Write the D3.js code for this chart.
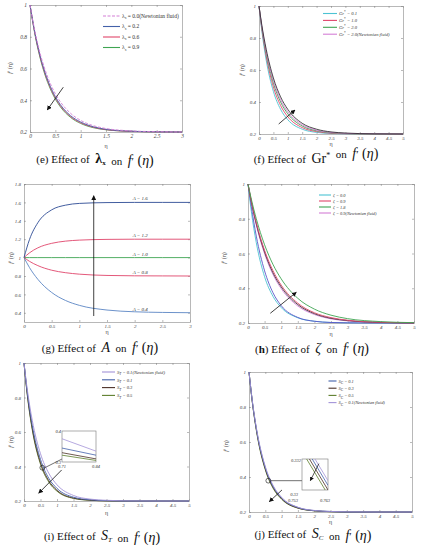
<!DOCTYPE html>
<html>
<head>
<meta charset="utf-8">
<script src="https://cdn.jsdelivr.net/npm/d3@7"></script>
<style>
  body { margin: 0; background: #fff; }
  svg { display: block; }
  text { font-family: 'Liberation Serif', 'DejaVu Serif', serif; }
</style>
</head>
<body>
<svg id="fig" width="422" height="550"></svg>
<script>
// ---- tick labels ----
const ticksX3 = [0, 0.5, 1, 1.5, 2, 2.5, 3];
const ticksX5 = [0, 0.5, 1, 1.5, 2, 2.5, 3, 3.5, 4, 4.5, 5];
const ticksY1 = [0.2, 0.4, 0.6, 0.8, 1];
const ticksYA = [0.4, 0.6, 0.8, 1, 1.2, 1.4, 1.6, 1.8];

// ---- (e) lambda_x ----
const etaE = [0, 0.1, 0.2, 0.3, 0.4, 0.5, 0.6, 0.8, 1.0, 1.25, 1.5, 2, 2.5, 3];
const eNewt = [1, 0.83, 0.695, 0.59, 0.506, 0.441, 0.39, 0.318, 0.273, 0.24, 0.222, 0.207, 0.202, 0.2];
const eL02 = [1, 0.82, 0.68, 0.572, 0.488, 0.423, 0.372, 0.303, 0.263, 0.233, 0.217, 0.205, 0.201, 0.2];
const eL06 = [1, 0.815, 0.673, 0.564, 0.48, 0.415, 0.365, 0.297, 0.258, 0.23, 0.215, 0.204, 0.201, 0.2];
const eL09 = [1, 0.81, 0.666, 0.556, 0.472, 0.407, 0.358, 0.292, 0.254, 0.227, 0.214, 0.204, 0.201, 0.2];
const eLabels = ['0.0(Newtonian fluid)', '0.2', '0.6', '0.9'];

// ---- (f) Gr* ----
const etaF = [0, 0.1, 0.25, 0.5, 0.75, 1, 1.5, 2, 2.5, 3, 4, 5];
const fGr01 = [1, 0.842, 0.662, 0.466, 0.354, 0.289, 0.230, 0.210, 0.203, 0.201, 0.2, 0.2];
const fGr10 = [1, 0.855, 0.686, 0.494, 0.378, 0.308, 0.240, 0.215, 0.205, 0.202, 0.2, 0.2];
const fGr20 = [1, 0.865, 0.704, 0.518, 0.400, 0.326, 0.250, 0.220, 0.208, 0.203, 0.2, 0.2];
const fNewt = [1, 0.871, 0.717, 0.534, 0.415, 0.339, 0.258, 0.224, 0.210, 0.204, 0.201, 0.2];
const fDark = [1, 0.878, 0.730, 0.550, 0.432, 0.354, 0.267, 0.230, 0.213, 0.206, 0.201, 0.2];
const fLabels = ['0.1', '1.0', '2.0', '2.0(Newtonian fluid)'];

// ---- (g) A ----
const etaG = [0, 0.1, 0.25, 0.5, 0.75, 1, 1.5, 2, 2.5, 3];
const gA16 = [1, 1.198, 1.379, 1.519, 1.570, 1.589, 1.598, 1.6, 1.6, 1.6];
const gA12 = [1, 1.052, 1.106, 1.155, 1.179, 1.190, 1.198, 1.2, 1.2, 1.2];
const gA10 = [1, 1, 1, 1, 1, 1, 1, 1, 1, 1];
const gA08 = [1, 0.959, 0.913, 0.863, 0.836, 0.820, 0.806, 0.802, 0.801, 0.8];
const gA04 = [1, 0.891, 0.764, 0.621, 0.534, 0.481, 0.430, 0.411, 0.404, 0.401];
const gLabels = ['1.6', '1.2', '1.0', '0.8', '0.4'];

// ---- (h) zeta ----
const etaH = [0, 0.1, 0.25, 0.5, 0.75, 1, 1.5, 2, 2.5, 3, 4, 5];
const hZ00 = [1, 0.842, 0.662, 0.466, 0.354, 0.289, 0.230, 0.210, 0.203, 0.201, 0.2, 0.2];
const hBlue = [1, 0.870, 0.700, 0.500, 0.375, 0.300, 0.232, 0.210, 0.203, 0.201, 0.2, 0.2];
const hDark = [1, 0.898, 0.770, 0.608, 0.490, 0.408, 0.306, 0.254, 0.227, 0.214, 0.203, 0.2];
const hNewt = [1, 0.895, 0.764, 0.598, 0.480, 0.398, 0.298, 0.249, 0.224, 0.212, 0.203, 0.2];
const hZ09 = [1, 0.902, 0.778, 0.618, 0.502, 0.418, 0.314, 0.259, 0.231, 0.216, 0.204, 0.201];
const hZ18 = [1, 0.913, 0.800, 0.650, 0.538, 0.454, 0.342, 0.280, 0.245, 0.225, 0.208, 0.202];
const hLabels = ['0.0', '0.9', '1.8', '0.9(Newtonian fluid)'];

// ---- (i) S_T ----
const etaI = [0, 0.1, 0.25, 0.5, 0.75, 1, 1.5, 2, 2.5, 3, 4, 5];
const iNewt = [1, 0.846, 0.668, 0.474, 0.361, 0.294, 0.232, 0.211, 0.204, 0.201, 0.2, 0.2];
const iS01 = [1, 0.830, 0.639, 0.441, 0.332, 0.273, 0.222, 0.207, 0.202, 0.2, 0.2, 0.2];
const iS03 = [1, 0.819, 0.622, 0.422, 0.318, 0.262, 0.217, 0.205, 0.201, 0.2, 0.2, 0.2];
const iS05 = [1, 0.814, 0.613, 0.413, 0.310, 0.257, 0.215, 0.204, 0.201, 0.2, 0.2, 0.2];
const iLabels = ['0.1(Newtonian fluid)', '0.1', '0.3', '0.5'];
const iInsetEta = [0.71, 0.84];
const iInsetNewt = [0.375, 0.335];
const iInsetS01 = [0.345, 0.322];
const iInsetS03 = [0.330, 0.310];
const iInsetS05 = [0.322, 0.305];

// ---- (j) S_C ----
const etaJ = [0, 0.1, 0.25, 0.5, 0.75, 1, 1.5, 2, 2.5, 3, 4, 5];
const jS01 = [1, 0.835, 0.650, 0.454, 0.342, 0.280, 0.226, 0.208, 0.203, 0.2, 0.2, 0.2];
const jS03 = [1, 0.833, 0.645, 0.447, 0.338, 0.276, 0.223, 0.207, 0.202, 0.2, 0.2, 0.2];
const jS05 = [1, 0.830, 0.639, 0.441, 0.332, 0.273, 0.222, 0.207, 0.202, 0.2, 0.2, 0.2];
const jNewt = [1, 0.839, 0.656, 0.460, 0.348, 0.284, 0.227, 0.209, 0.203, 0.201, 0.2, 0.2];
const jLabels = ['0.1', '0.3', '0.5', '0.1(Newtonian fluid)'];
const jInsetEta = [0.753, 0.763];
const jInsetS05 = [0.3325, 0.3297];
const jInsetS03 = [0.3328, 0.3300];
const jInsetS01 = [0.3331, 0.3303];
const jInsetNewt = [0.3334, 0.3306];

const C = {
  pink: '#d47fd6', blue: '#4361a9', red: '#e0456b', green: '#3fa552',
  cyan: '#4cc3d3', lav: '#a393d8', dark: '#4b3026', olive: '#5d7e2c',
  steel: '#5b86c4', navy: '#2c4b94', black: '#222'
};
const SERIF = 'Liberation Serif, DejaVu Serif, serif';
const SP = '\u00a0';

const svg = d3.select('#fig');
svg.append('defs').append('marker')
  .attr('id', 'arr').attr('viewBox', '0 0 10 10').attr('refX', 9).attr('refY', 5)
  .attr('markerWidth', 6).attr('markerHeight', 6).attr('orient', 'auto')
  .append('path').attr('d', 'M0,0L10,5L0,10z').attr('fill', '#111');

// write a list of [text, style] pieces into a text node
function rich(sel, parts) {
  sel.attr('font-family', SERIF);
  parts.forEach(p => {
    const s = p[1] || {};
    const t = sel.append('tspan').text(p[0]);
    if (s.size) t.attr('font-size', s.size);
    if (s.it) t.attr('font-style', 'italic');
    if (s.b) t.attr('font-weight', 'bold');
    if (s.dy) t.attr('dy', s.dy);
  });
  return sel;
}

function panel(cfg) {
  const [l, r, t, b] = cfg.box;
  const x = d3.scaleLinear().domain(cfg.xDomain).range([l, r]);
  const y = d3.scaleLinear().domain(cfg.yDomain).range([b, t]);
  const g = svg.append('g');

  const fmt = d => String(d);
  const styleAxis = a => {
    a.attr('font-family', SERIF);
    a.select('.domain').attr('stroke', '#9a9a9a').attr('stroke-width', 0.7);
    a.selectAll('.tick line').attr('stroke', '#777').attr('stroke-width', 0.5);
    a.selectAll('.tick text').attr('font-size', cfg.tickSize || 5).attr('font-style', 'italic')
      .attr('fill', '#444');
  };
  g.append('g').attr('transform', `translate(0,${b})`)
    .call(d3.axisBottom(x).tickValues(cfg.xTicks).tickSize(-2).tickSizeOuter(0).tickPadding(2).tickFormat(fmt))
    .call(styleAxis);
  g.append('g').attr('transform', `translate(0,${t})`)
    .call(d3.axisTop(x).tickValues(cfg.xTicks).tickSize(-2).tickSizeOuter(0).tickFormat(''))
    .call(styleAxis);
  g.append('g').attr('transform', `translate(${l},0)`)
    .call(d3.axisLeft(y).tickValues(cfg.yTicks).tickSize(-2).tickSizeOuter(0).tickPadding(3).tickFormat(fmt))
    .call(styleAxis);
  g.append('g').attr('transform', `translate(${r},0)`)
    .call(d3.axisRight(y).tickValues(cfg.yTicks).tickSize(-2).tickSizeOuter(0).tickFormat(''))
    .call(styleAxis);

  const line = d3.line().x(d => x(d[0])).y(d => y(d[1])).curve(d3.curveMonotoneX);
  cfg.series.forEach(s => {
    g.append('path')
      .datum(cfg.eta.map((e, i) => [e, s.v[i]]))
      .attr('d', line)
      .attr('fill', 'none')
      .attr('stroke', s.c)
      .attr('stroke-width', s.w || 0.9)
      .attr('stroke-dasharray', s.dash || null);
  });

  // legend
  if (cfg.legend) {
    const L = cfg.legend;
    L.items.forEach((it, i) => {
      const yy = L.y + i * L.dy;
      g.append('line').attr('x1', L.x).attr('x2', L.x + L.len).attr('y1', yy).attr('y2', yy)
        .attr('stroke', it.c).attr('stroke-width', 1.1).attr('stroke-dasharray', it.dash || null);
      rich(g.append('text').attr('x', L.x + L.len + 2).attr('y', yy + 1.7)
        .attr('font-size', L.size).attr('fill', '#333'), it.parts);
    });
  }

  // axis labels
  g.append('text').attr('x', (l + r) / 2).attr('y', cfg.xlab).attr('text-anchor', 'middle')
    .attr('font-family', SERIF).attr('font-size', 6).attr('fill', '#444').text('η');
  rich(g.append('text').attr('transform', `translate(${cfg.ylab[0]},${cfg.ylab[1]}) rotate(-90)`)
    .attr('text-anchor', 'middle').attr('font-size', 6).attr('fill', '#444'),
    [['f', { it: true }], ['′' + SP + '(η)']]);

  // caption
  rich(g.append('text').attr('x', cfg.title[0]).attr('y', cfg.title[1]).attr('text-anchor', 'middle')
    .attr('font-size', 11).attr('fill', '#111'), cfg.title[2]);

  // arrow
  if (cfg.arrow) {
    const a = cfg.arrow;
    g.append('line').attr('x1', x(a[0])).attr('y1', y(a[1])).attr('x2', x(a[2])).attr('y2', y(a[3]))
      .attr('stroke', '#111').attr('stroke-width', 0.8).attr('marker-end', 'url(#arr)');
  }
  return { g, x, y };
}

const onF = [[SP + SP + 'on' + SP + SP], ['f', { it: true, size: 14 }], ['′', { size: 11 }], [SP + '(', { size: 14 }], ['η', { it: true, size: 14 }], [')', { size: 14 }]];

// (e)
const sym = (base, sub, rest, it) => [[base, { it: it }], [sub, { size: 3.5, dy: 1.5, it: it }], [rest, { dy: -1.5, it: it }]];
panel({
  box: [30, 182, 5, 132], xDomain: [0, 3], yDomain: [0.2, 1], xTicks: ticksX3, yTicks: ticksY1,
  eta: etaE, tickSize: 5.5,
  series: [
    { v: eL09, c: C.green }, { v: eL06, c: C.red }, { v: eL02, c: C.blue },
    { v: eNewt, c: C.pink, dash: '3,1.5' }
  ],
  legend: {
    x: 103, y: 16, dy: 10.5, len: 17, size: 5.5,
    items: [
      { c: C.pink, dash: '3,1.5', parts: sym('λ', 'x', ' = ' + eLabels[0]) },
      { c: C.blue, parts: sym('λ', 'x', ' = ' + eLabels[1]) },
      { c: C.red, parts: sym('λ', 'x', ' = ' + eLabels[2]) },
      { c: C.green, parts: sym('λ', 'x', ' = ' + eLabels[3]) }
    ]
  },
  xlab: 148, ylab: [12, 68],
  title: [95, 163, [['(e) Effect of' + SP + SP], ['λ', { b: true, size: 14 }], ['x', { b: true, size: 7, dy: 2 }], ['', { dy: -2 }]].concat(onF)],
  arrow: [0.657, 0.482, 0.341, 0.339]
});

// (f)
const grSym = rest => [['Gr', { it: true }], ['*', { size: 3.5, dy: -1.8 }], [' = ' + rest, { it: true, dy: 1.8 }]];
panel({
  box: [259, 403, 6, 134], xDomain: [0, 5], yDomain: [0.2, 1], xTicks: ticksX5, yTicks: ticksY1,
  eta: etaF,
  series: [
    { v: fGr01, c: C.cyan }, { v: fGr10, c: C.red }, { v: fGr20, c: C.green },
    { v: fNewt, c: C.pink }, { v: fDark, c: C.black, w: 0.8 }
  ],
  legend: {
    x: 323, y: 13.5, dy: 6.9, len: 14, size: 4.6,
    items: [
      { c: C.cyan, parts: grSym(fLabels[0]) }, { c: C.red, parts: grSym(fLabels[1]) },
      { c: C.green, parts: grSym(fLabels[2]) }, { c: C.pink, parts: grSym(fLabels[3]) }
    ]
  },
  xlab: 146, ylab: [244, 70],
  title: [316, 163, [['(f) Effect of' + SP + SP], ['Gr', { size: 14 }], ['*', { size: 8, dy: -5 }], ['', { dy: 5 }]].concat(onF)],
  arrow: [0.684, 0.2625, 1.25, 0.35]
});

// (g)
const pg = panel({
  box: [24, 190, 184, 322], xDomain: [0, 3], yDomain: [0.3, 1.8], xTicks: ticksX3, yTicks: ticksYA,
  eta: etaG,
  series: [
    { v: gA04, c: C.steel }, { v: gA08, c: C.red }, { v: gA10, c: C.green },
    { v: gA12, c: C.red }, { v: gA16, c: C.navy }
  ],
  xlab: 334, ylab: [13, 258],
  title: [100, 352, [['(g) Effect of' + SP + SP], ['A', { it: true, size: 14 }]].concat(onF)],
  arrow: [1.26, 0.365, 1.26, 1.673]
});
[[1.6, gLabels[0]], [1.2, gLabels[1]], [1.0, gLabels[2]], [0.8, gLabels[3]], [0.4, gLabels[4]]].forEach(d => {
  pg.g.append('text').attr('x', pg.x(2.1)).attr('y', pg.y(d[0]) - 2).attr('text-anchor', 'middle')
    .attr('font-family', SERIF).attr('font-size', 5).attr('font-style', 'italic').attr('fill', '#333').text('A = ' + d[1]);
});

// (h)
const zSym = rest => [['ζ', { it: true }], [' = ' + rest, { it: true }]];
panel({
  box: [248, 414, 184, 323], xDomain: [0, 5], yDomain: [0.2, 1], xTicks: ticksX5, yTicks: ticksY1,
  eta: etaH,
  series: [
    { v: hZ00, c: C.cyan }, { v: hBlue, c: '#5a55c8' }, { v: hNewt, c: C.pink },
    { v: hDark, c: C.black, w: 0.8 }, { v: hZ09, c: C.red }, { v: hZ18, c: C.green }
  ],
  legend: {
    x: 319, y: 195, dy: 6, len: 12, size: 4.4,
    items: [
      { c: C.cyan, parts: zSym(hLabels[0]) }, { c: C.red, parts: zSym(hLabels[1]) },
      { c: C.green, parts: zSym(hLabels[2]) }, { c: C.pink, parts: zSym(hLabels[3]) }
    ]
  },
  xlab: 336, ylab: [226, 258],
  title: [312, 353, [['(', {}], ['h', { b: true }], [') Effect of' + SP + SP], ['ζ', { it: true, size: 14 }]].concat(onF)],
  arrow: [0.672, 0.256, 1.455, 0.377]
});

// (i)
const sSym = (sub, rest) => [['S', { it: true }], [sub, { it: true, size: 3.5, dy: 1.5 }], [' = ' + rest, { it: true, dy: -1.5 }]];
const pi = panel({
  box: [24, 189, 363, 501], xDomain: [0, 5], yDomain: [0.2, 1], xTicks: ticksX5, yTicks: ticksY1,
  eta: etaI,
  series: [
    { v: iS05, c: C.olive }, { v: iS03, c: C.dark }, { v: iS01, c: C.blue }, { v: iNewt, c: C.lav }
  ],
  legend: {
    x: 102, y: 372, dy: 7.8, len: 13, size: 4.6,
    items: [
      { c: C.lav, parts: sSym('T', iLabels[0]) }, { c: C.blue, parts: sSym('T', iLabels[1]) },
      { c: C.dark, parts: sSym('T', iLabels[2]) }, { c: C.olive, parts: sSym('T', iLabels[3]) }
    ]
  },
  xlab: 515, ylab: [13, 442],
  title: [102, 540, [['(i) Effect of' + SP + SP], ['S', { it: true, size: 14 }], ['T', { it: true, size: 7, dy: 2 }], ['', { dy: -2 }]].concat(onF)],
  arrow: [1.142, 0.38, 0.445, 0.245]
});
// zoom circle + inset for (i)
pi.g.append('circle').attr('cx', pi.x(0.555)).attr('cy', pi.y(0.393)).attr('r', 2.4)
  .attr('fill', 'none').attr('stroke', '#111').attr('stroke-width', 0.6);
pi.g.append('line').attr('x1', pi.x(0.6)).attr('y1', pi.y(0.39)).attr('x2', 62).attr('y2', 459)
  .attr('stroke', '#111').attr('stroke-width', 0.6);
(function () {
  const bx = [62, 96, 431, 462];
  const ix = d3.scaleLinear().domain(iInsetEta).range([bx[0], bx[1]]);
  const iy = d3.scaleLinear().domain([0.3, 0.4]).range([bx[3], bx[2]]);
  const ig = pi.g.append('g');
  ig.append('rect').attr('x', bx[0]).attr('y', bx[2]).attr('width', bx[1] - bx[0]).attr('height', bx[3] - bx[2])
    .attr('fill', '#fff').attr('stroke', '#777').attr('stroke-width', 0.6);
  [[iInsetNewt, C.lav], [iInsetS01, C.blue], [iInsetS03, C.dark], [iInsetS05, C.olive]].forEach(s => {
    ig.append('line').attr('x1', ix(iInsetEta[0])).attr('y1', iy(s[0][0]))
      .attr('x2', ix(iInsetEta[1])).attr('y2', iy(s[0][1])).attr('stroke', s[1]).attr('stroke-width', 0.8);
  });
  const lab = (tx, ty, s, anchor) => ig.append('text').attr('x', tx).attr('y', ty).attr('font-size', 4.5)
    .attr('font-family', SERIF).attr('font-style', 'italic').attr('fill', '#333').attr('text-anchor', anchor || 'start').text(s);
  lab(bx[0] - 1, bx[2] + 2, '0.4', 'end');
  lab(bx[0] - 1, bx[3] + 1.5, '0.3', 'end');
  lab(bx[0], bx[3] + 6, '0.71', 'middle');
  lab(bx[1], bx[3] + 6, '0.84', 'middle');
})();

// (j)
const pj = panel({
  box: [249, 412, 372, 512], xDomain: [0, 5], yDomain: [0.2, 1], xTicks: ticksX5, yTicks: ticksY1,
  eta: etaJ,
  series: [
    { v: jS05, c: C.olive }, { v: jS03, c: C.dark }, { v: jS01, c: C.blue }, { v: jNewt, c: C.lav }
  ],
  legend: {
    x: 328.5, y: 381, dy: 7.2, len: 8, size: 4.4,
    items: [
      { c: C.blue, parts: sSym('C', jLabels[0]) }, { c: C.dark, parts: sSym('C', jLabels[1]) },
      { c: C.olive, parts: sSym('C', jLabels[2]) }, { c: C.lav, parts: sSym('C', jLabels[3]) }
    ]
  },
  xlab: 524, ylab: [228, 446],
  title: [313, 538, [['(j) Effect of' + SP + SP], ['S', { it: true, size: 14 }], ['C', { it: true, size: 7, dy: 2 }], ['', { dy: -2 }]].concat(onF)],
  arrow: [1.012, 0.326, 0.623, 0.259]
});
pj.g.append('circle').attr('cx', pj.x(0.592)).attr('cy', pj.y(0.379)).attr('r', 2.4)
  .attr('fill', 'none').attr('stroke', '#111').attr('stroke-width', 0.6);
(function () {
  const bx = [302, 328, 459, 490];
  pj.g.append('line').attr('x1', pj.x(0.592) + 2.4).attr('y1', pj.y(0.379)).attr('x2', bx[0]).attr('y2', pj.y(0.379))
    .attr('stroke', '#111').attr('stroke-width', 0.6);
  const ix = d3.scaleLinear().domain(jInsetEta).range([bx[0], bx[1]]);
  const iy = d3.scaleLinear().domain([0.33, 0.332]).range([bx[3], bx[2]]);
  const ig = pj.g.append('g');
  ig.append('clipPath').attr('id', 'jclip').append('rect')
    .attr('x', bx[0]).attr('y', bx[2]).attr('width', bx[1] - bx[0]).attr('height', bx[3] - bx[2]);
  ig.append('rect').attr('x', bx[0]).attr('y', bx[2]).attr('width', bx[1] - bx[0]).attr('height', bx[3] - bx[2])
    .attr('fill', '#fff').attr('stroke', '#777').attr('stroke-width', 0.6);
  const lg = ig.append('g').attr('clip-path', 'url(#jclip)');
  [[jInsetS05, C.olive], [jInsetS03, C.dark], [jInsetS01, C.blue], [jInsetNewt, C.lav]].forEach(s => {
    lg.append('line').attr('x1', ix(jInsetEta[0])).attr('y1', iy(s[0][0]))
      .attr('x2', ix(jInsetEta[1])).attr('y2', iy(s[0][1])).attr('stroke', s[1]).attr('stroke-width', 0.8);
  });
  ig.append('line').attr('x1', ix(0.7595)).attr('y1', iy(0.3317)).attr('x2', ix(0.7562)).attr('y2', iy(0.3306))
    .attr('stroke', '#111').attr('stroke-width', 0.7).attr('marker-end', 'url(#arr)');
  const lab = (tx, ty, s, anchor) => ig.append('text').attr('x', tx).attr('y', ty).attr('font-size', 4.5)
    .attr('font-family', SERIF).attr('font-style', 'italic').attr('fill', '#333').attr('text-anchor', anchor || 'start').text(s);
  lab(bx[0] - 1, bx[2] + 3, '0.332', 'end');
  lab(bx[0] - 4, bx[3] + 6, '0.33', 'end');
  lab(bx[0] - 4, bx[3] + 12, '0.753', 'end');
  lab(bx[1] - 3, bx[3] + 12, '0.763', 'middle');
})();
</script>
</body>
</html>
